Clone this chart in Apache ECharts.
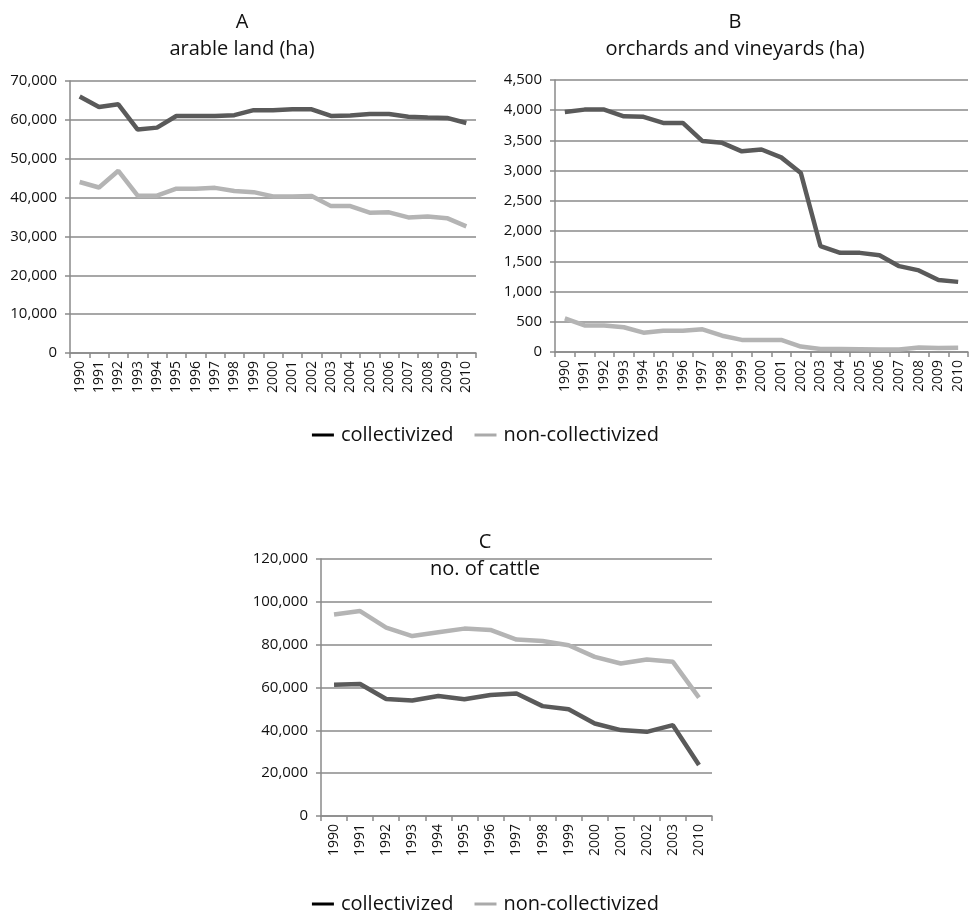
<!DOCTYPE html>
<html><head><meta charset="utf-8">
<script src="https://cdn.jsdelivr.net/npm/echarts@6/dist/echarts.min.js"></script>
<style>html,body{margin:0;padding:0;background:#fff}#c{width:971px;height:917px}</style>
</head><body><div id="c"></div>
<script>
const yearsAB = ['1990','1991','1992','1993','1994','1995','1996','1997','1998','1999','2000','2001','2002','2003','2004','2005','2006','2007','2008','2009','2010'];
const yearsC = ['1990','1991','1992','1993','1994','1995','1996','1997','1998','1999','2000','2001','2002','2003','2010'];
const arableColl = [66000,63300,64000,57500,58000,61000,61000,61000,61200,62500,62500,62700,62700,61000,61100,61500,61500,60800,60600,60500,59200];
const arableNon = [44000,42600,46900,40500,40500,42300,42300,42500,41700,41400,40300,40300,40400,37800,37800,36100,36200,34900,35100,34700,32600];
const orchColl = [3970,4010,4010,3900,3890,3790,3790,3490,3460,3320,3350,3220,2960,1750,1640,1640,1600,1420,1350,1190,1160];
const orchNon = [555,440,440,410,320,350,350,375,270,200,200,200,90,50,50,45,40,40,75,65,70];
const cattleColl = [61300,61600,54600,53900,56000,54500,56500,57200,51300,49800,43200,40100,39300,42400,23800];
const cattleNon = [94100,95700,88000,84000,85800,87500,86900,82400,81700,79700,74300,71200,73100,72000,55300];

const font = 'Open Sans';
const darkC = '#5a5a5a', lightC = '#b4b4b4', gridC = '#8a8a8a';
const fmt = v => Number(v).toLocaleString('en-US');

function xAxis(idx, data) {
  return {type:'category', gridIndex:idx, data:data, boundaryGap:true,
    axisLine:{lineStyle:{color:gridC,width:1.5}},
    axisTick:{show:true, length:5, lineStyle:{color:gridC,width:1.5}},
    axisLabel:{rotate:90, color:'#111', fontFamily:font, fontSize:14, margin:8, interval:0}};
}
function yAxis(idx, max, interval) {
  return {type:'value', gridIndex:idx, min:0, max:max, interval:interval,
    axisLine:{show:true, lineStyle:{color:gridC,width:1.5}},
    axisTick:{show:true, length:5, lineStyle:{color:gridC,width:1.5}},
    splitLine:{lineStyle:{color:gridC,width:1.5}},
    axisLabel:{color:'#111', fontFamily:font, fontSize:15, margin:13, formatter:fmt}};
}
function ser(name, idx, data, color) {
  return {name:name, type:'line', xAxisIndex:idx, yAxisIndex:idx, data:data, symbol:'none',
    lineStyle:{color:color, width:4.5}, itemStyle:{color:color}, animation:false};
}
const legendData = [{name:'collectivized', itemStyle:{color:'#000'}},{name:'non-collectivized', itemStyle:{color:'#aaa'}}];
function legend(top) {
  return {top:top, left:'center', data:legendData, icon:'rect', itemWidth:22, itemHeight:3, itemGap:21,
    textStyle:{fontFamily:font, fontSize:20, color:'#111', padding:[0,0,0,2]}, selectedMode:false};
}
const titleStyle = {fontFamily:font, fontSize:20, fontWeight:'normal', color:'#111', lineHeight:27};

const chart = echarts.init(document.getElementById('c'), null, {renderer:'canvas'});
chart.setOption({
  animation:false,
  backgroundColor:'#fff',
  title:[
    {text:'A\narable land (ha)', left:237, top:4, textAlign:'center', textStyle:titleStyle},
    {text:'B\norchards and vineyards (ha)', left:730, top:4, textAlign:'center', textStyle:titleStyle},
    {text:'C\nno. of cattle', left:480, top:524, textAlign:'center', textStyle:titleStyle}
  ],
  legend:[legend(420), legend(889)],
  grid:[
    {left:70, right:495, top:81, bottom:564},
    {left:555, right:3, top:80, bottom:565},
    {left:321, right:259, top:559, bottom:101}
  ],
  xAxis:[xAxis(0, yearsAB), xAxis(1, yearsAB), xAxis(2, yearsC)],
  yAxis:[yAxis(0, 70000, 10000), yAxis(1, 4500, 500), yAxis(2, 120000, 20000)],
  series:[
    ser('collectivized', 0, arableColl, darkC),
    ser('non-collectivized', 0, arableNon, lightC),
    ser('collectivized', 1, orchColl, darkC),
    ser('non-collectivized', 1, orchNon, lightC),
    ser('collectivized', 2, cattleColl, darkC),
    ser('non-collectivized', 2, cattleNon, lightC)
  ]
});
</script></body></html>
